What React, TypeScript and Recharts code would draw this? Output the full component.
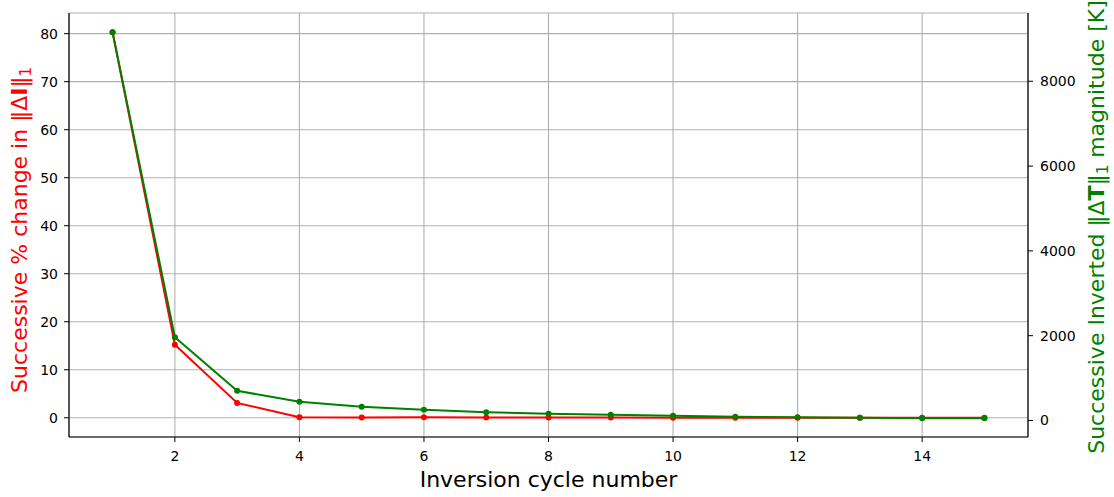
import React from 'react';
import {
    CartesianGrid,
    Line,
    LineChart,
    XAxis,
    YAxis,
} from 'recharts';

// inversion cycles and the two convergence measures per cycle
const cycles = [1, 2, 3, 4, 5, 6, 7, 8, 9, 10, 11, 12, 13, 14, 15];
const pctChange = [80.3, 15.2, 3.1, 0.1, 0.08, 0.1, 0.05, 0.05, 0.04, 0.03, 0.03, 0.02, 0.02, 0.01, 0.01];
const tempMagnitude = [9154, 1962, 700, 440, 323, 252, 195, 158, 134, 111, 87, 78, 64, 54, 50];

const xTicks = [2, 4, 6, 8, 10, 12, 14];
const leftTicks = [0, 10, 20, 30, 40, 50, 60, 70, 80];
const rightTicks = [0, 2000, 4000, 6000, 8000];

const data = cycles.map((cycle, i) => ({
    cycle,
    pct: pctChange[i],
    temp: tempMagnitude[i],
}));

const RED = '#ff0000';
const GREEN = '#008000';
const FONT = '"DejaVu Sans", sans-serif';
const tickStyle = { fontSize: 14, fill: '#000', fontFamily: FONT };

const LeftLabel = ({ viewBox }: any) => {
    const x = viewBox.x + 27;
    const y = viewBox.y + viewBox.height / 2 + 5;
    return (
        <text
            x={x}
            y={y}
            transform={`rotate(-90, ${x}, ${y})`}
            textAnchor="middle"
            fill={RED}
            fontSize={22}
            fontFamily={FONT}
        >
            Successive % change in ‖Δ
            <tspan fontWeight="bold">I</tspan>
            ‖
            <tspan fontSize={15} dy={4}>1</tspan>
        </text>
    );
};

const RightLabel = ({ viewBox }: any) => {
    const x = viewBox.x + 76;
    const y = viewBox.y + viewBox.height / 2 + 2;
    return (
        <text
            x={x}
            y={y}
            transform={`rotate(-90, ${x}, ${y})`}
            textAnchor="middle"
            fill={GREEN}
            fontSize={22}
            fontFamily={FONT}
        >
            Successive Inverted ‖Δ
            <tspan fontWeight="bold">T</tspan>
            ‖
            <tspan fontSize={15} dy={4}>1</tspan>
            <tspan dy={-4}> magnitude [K]</tspan>
        </text>
    );
};

const BottomLabel = ({ viewBox }: any) => {
    const x = viewBox.x + viewBox.width / 2;
    return (
        <text
            x={x}
            y={487}
            textAnchor="middle"
            fill="#000"
            fontSize={22}
            fontFamily={FONT}
        >
            Inversion cycle number
        </text>
    );
};

export default function App() {
    return (
        <div style={{ position: 'absolute', left: 0, top: 0, background: '#fff' }}>
            <LineChart
                width={1114}
                height={497}
                data={data}
                margin={{ top: 13, right: 0, bottom: 0, left: 0 }}
            >
                <CartesianGrid
                    xAxisId="x"
                    yAxisId="left"
                    stroke="#b0b0b0"
                    strokeWidth={1.1}
                />
                <XAxis
                    xAxisId="x"
                    dataKey="cycle"
                    type="number"
                    domain={[0.3, 15.7]}
                    ticks={xTicks}
                    interval={0}
                    allowDataOverflow
                    height={60}
                    tick={tickStyle}
                    tickSize={5}
                    tickMargin={9}
                    axisLine={{ stroke: '#000', strokeWidth: 1.2 }}
                    tickLine={{ stroke: '#000' }}
                    label={<BottomLabel />}
                />
                <XAxis
                    xAxisId="top"
                    orientation="top"
                    dataKey="cycle"
                    type="number"
                    domain={[0.3, 15.7]}
                    allowDataOverflow
                    height={0}
                    tick={false}
                    tickLine={false}
                    axisLine={{ stroke: '#000', strokeWidth: 1.2 }}
                />
                <YAxis
                    yAxisId="left"
                    orientation="left"
                    type="number"
                    domain={[-4.0, 84.3]}
                    ticks={leftTicks}
                    interval={0}
                    allowDataOverflow
                    width={69}
                    tick={tickStyle}
                    tickSize={5}
                    tickMargin={6}
                    axisLine={{ stroke: '#000', strokeWidth: 1.2 }}
                    tickLine={{ stroke: '#000' }}
                    label={<LeftLabel />}
                />
                <YAxis
                    yAxisId="right"
                    orientation="right"
                    type="number"
                    domain={[-390, 9610]}
                    ticks={rightTicks}
                    interval={0}
                    allowDataOverflow
                    width={86}
                    tick={tickStyle}
                    tickSize={5}
                    tickMargin={7}
                    axisLine={{ stroke: '#000', strokeWidth: 1.2 }}
                    tickLine={{ stroke: '#000' }}
                    label={<RightLabel />}
                />
                <Line
                    xAxisId="x"
                    yAxisId="left"
                    type="linear"
                    dataKey="pct"
                    stroke={RED}
                    strokeWidth={2}
                    dot={{ r: 3, fill: RED, stroke: RED, strokeWidth: 0 }}
                    isAnimationActive={false}
                />
                <Line
                    xAxisId="x"
                    yAxisId="right"
                    type="linear"
                    dataKey="temp"
                    stroke={GREEN}
                    strokeWidth={2}
                    dot={{ r: 3, fill: GREEN, stroke: GREEN, strokeWidth: 0 }}
                    isAnimationActive={false}
                />
            </LineChart>
        </div>
    );
}
